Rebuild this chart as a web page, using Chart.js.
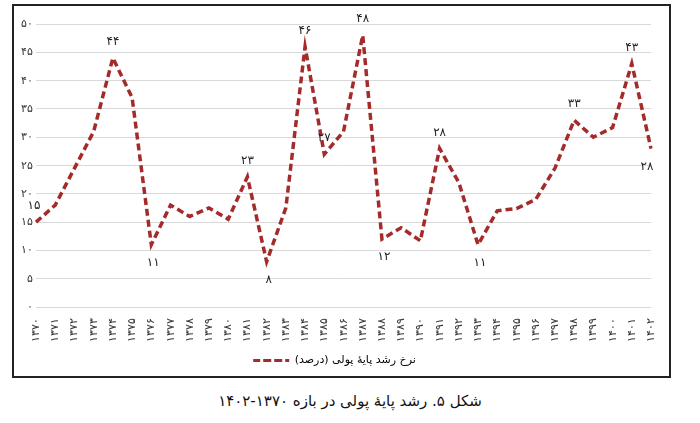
<!DOCTYPE html>
<html><head><meta charset="utf-8">
<script src="https://cdn.jsdelivr.net/npm/chart.js@4"></script>
<style>
body{margin:0;background:#fff;font-family:"DejaVu Sans";}
#box{position:absolute;left:12px;top:4px;width:659px;height:374px;border:2px solid #222;box-sizing:border-box;}
#cap{position:absolute;left:0;top:392px;width:700px;text-align:center;font-size:15px;direction:rtl;color:#111;}
</style></head><body>
<div id="box"><canvas id="c" width="655" height="370"></canvas></div>
<div id="cap">شکل ۵. رشد پایهٔ پولی در بازه ۱۳۷۰-۱۴۰۲</div>
<script>
const fa = s => String(s).replace(/\d/g, d => '۰۱۲۳۴۵۶۷۸۹'[d]);
const years = [];
for (let y = 1370; y <= 1402; y++) years.push(y);
const values = [15,18,24.5,31,44,37,11,18,16,17.5,15.5,23,8,17.5,46,27,31,48,12,14,11.7,28,22,11,17,17.4,19,24.5,33,30,31.7,43,28];
const labelIdx = [0,4,6,11,12,14,15,17,18,21,23,28,31,32];
const labelText = [15,44,11,23,8,46,27,48,12,28,11,33,43,28];
const labelPos = ['up','up','down','up','down','up','up','up','down','up','down','up','up','down'];
const seriesName = 'نرخ رشد پایهٔ پولی (درصد)';
const dl = {id:'dl',afterDatasetsDraw(ch){const m=ch.getDatasetMeta(0),c=ch.ctx;c.save();c.font='12px "DejaVu Sans"';c.fillStyle='#222';c.textAlign='center';
labelIdx.forEach((i,k)=>{const p=m.data[i];let x=p.x,y=p.y;if(i===0)x-=2;if(labelPos[k]==='up'){c.textBaseline='bottom';c.fillText(fa(labelText[k]),x,y-10);}else{c.textBaseline='top';c.fillText(fa(labelText[k]),x+(i===32?-4:2),y+12);}});c.restore();}};
new Chart(document.getElementById('c'),{type:'line',
data:{labels:years.map(fa),datasets:[{label:seriesName,data:values,borderColor:'#a52a2a',borderWidth:3.5,borderDash:[7,4],pointRadius:0,tension:0,fill:false}]},
options:{responsive:false,animation:false,layout:{padding:{top:18,right:18,left:4}},
plugins:{legend:{position:'bottom',labels:{font:{size:11,family:'DejaVu Sans'},color:'#333',boxWidth:36,boxHeight:0,generateLabels(ch){return [{text:seriesName,strokeStyle:'#a52a2a',lineWidth:3,lineDash:[7,4],fillStyle:'rgba(0,0,0,0)'}];}}},tooltip:{enabled:false}},
scales:{y:{min:0,max:50,ticks:{stepSize:5,callback:v=>fa(v),font:{size:11},color:'#333'},grid:{color:'#d9d9d9',drawTicks:false},border:{display:false}},
x:{ticks:{minRotation:90,maxRotation:90,autoSkip:false,font:{size:11},color:'#333'},grid:{display:false},border:{display:false}}}},
plugins:[dl]});
</script>
</body></html>
